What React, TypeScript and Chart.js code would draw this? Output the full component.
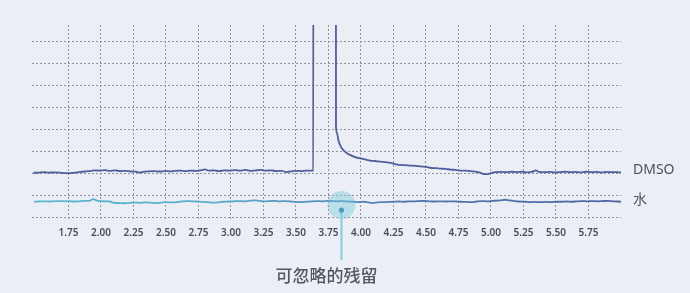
import { useEffect, useRef } from 'react';
import { Chart, registerables } from 'chart.js';

Chart.register(...registerables);

// Chemical-shift axis ticks (ppm)
const xTicks = [1.75, 2.0, 2.25, 2.5, 2.75, 3.0, 3.25, 3.5, 3.75, 4.0, 4.25, 4.5, 4.75, 5.0, 5.25, 5.5, 5.75];
const yGridValues = [0, 1, 2, 3, 4, 5, 6, 7, 8];

// DMSO trace: flat baseline, a solvent peak near 3.7 ppm and its decaying tail
const dmsoX = [
  1.48, 1.52, 1.56, 1.6, 1.64, 1.68, 1.72, 1.75, 1.79, 1.83, 1.87, 1.91, 1.95, 1.99, 2.03, 2.07,
  2.11, 2.15, 2.19, 2.23, 2.27, 2.3, 2.33, 2.37, 2.41, 2.45, 2.49, 2.53, 2.57, 2.61, 2.65, 2.69,
  2.73, 2.77, 2.8, 2.83, 2.87, 2.91, 2.95, 2.99, 3.03, 3.07, 3.11, 3.15, 3.19, 3.23, 3.27, 3.31,
  3.35, 3.39, 3.43, 3.46, 3.5, 3.54, 3.58, 3.62, 3.633,
  3.636, 3.806,
  3.808, 3.815, 3.826, 3.845, 3.864, 3.89, 3.916, 3.95, 3.993, 4.04, 4.07, 4.11, 4.15, 4.19, 4.23,
  4.27, 4.3, 4.34, 4.38, 4.42, 4.46, 4.5, 4.54, 4.58, 4.61, 4.65, 4.69, 4.73, 4.77, 4.8,
  4.84, 4.88, 4.91, 4.94, 4.97, 5.0, 5.04, 5.08, 5.12, 5.16, 5.2, 5.24, 5.28, 5.32, 5.345, 5.37,
  5.41, 5.45, 5.49, 5.53, 5.57, 5.61, 5.65, 5.69, 5.73, 5.77, 5.81, 5.85, 5.89, 5.93, 5.97, 6.0,
];
const dmsoY = [
  2.02, 2.03, 2.05, 2.03, 2.04, 2.03, 2.01, 2.0, 2.02, 2.05, 2.08, 2.1, 2.13, 2.12, 2.14, 2.11,
  2.13, 2.1, 2.11, 2.08, 2.07, 2.03, 2.07, 2.09, 2.1, 2.08, 2.1, 2.09, 2.11, 2.12, 2.1, 2.12,
  2.11, 2.14, 2.18, 2.12, 2.13, 2.1, 2.13, 2.12, 2.14, 2.12, 2.15, 2.11, 2.13, 2.15, 2.12, 2.13,
  2.1, 2.11, 2.05, 2.09, 2.11, 2.1, 2.12, 2.12, 2.13,
  40, 40,
  4.1, 3.85, 3.52, 3.22, 3.06, 2.93, 2.84, 2.75, 2.68, 2.62, 2.58, 2.56, 2.53, 2.51, 2.47,
  2.41, 2.38, 2.37, 2.35, 2.34, 2.31, 2.29, 2.24, 2.23, 2.21, 2.2, 2.17, 2.15, 2.12, 2.12,
  2.1, 2.07, 2.04, 1.97, 1.96, 2.01, 2.05, 2.06, 2.05, 2.07, 2.05, 2.07, 2.04, 2.07, 2.13, 2.06,
  2.05, 2.06, 2.04, 2.05, 2.07, 2.05, 2.06, 2.04, 2.07, 2.05, 2.06, 2.04, 2.06, 2.05, 2.05, 2.04,
];

// Water trace: baseline with only a faint residual
const waterX = [
  1.485, 1.52, 1.56, 1.6, 1.64, 1.68, 1.72, 1.75, 1.79, 1.83, 1.87, 1.91, 1.94, 1.97, 2.0, 2.04,
  2.07, 2.1, 2.14, 2.18, 2.22, 2.26, 2.3, 2.34, 2.38, 2.42, 2.46, 2.5, 2.54, 2.58, 2.62, 2.66,
  2.7, 2.74, 2.78, 2.82, 2.86, 2.9, 2.94, 2.98, 3.02, 3.06, 3.1, 3.14, 3.18, 3.22, 3.26, 3.3,
  3.34, 3.38, 3.42, 3.46, 3.5, 3.54, 3.58, 3.62, 3.66, 3.7, 3.74, 3.78, 3.82, 3.86, 3.9, 3.94,
  3.98, 4.02, 4.06, 4.09, 4.13, 4.17, 4.21, 4.25, 4.29, 4.33, 4.37, 4.41, 4.45, 4.49, 4.53, 4.57,
  4.61, 4.65, 4.69, 4.73, 4.77, 4.81, 4.85, 4.89, 4.93, 4.97, 5.01, 5.05, 5.09, 5.11, 5.14, 5.18,
  5.22, 5.26, 5.3, 5.34, 5.38, 5.42, 5.46, 5.5, 5.54, 5.58, 5.62, 5.66, 5.7, 5.74, 5.78, 5.82,
  5.86, 5.9, 5.94, 5.97, 6.0,
];
const waterY = [
  0.7, 0.71, 0.72, 0.71, 0.72, 0.73, 0.72, 0.73, 0.71, 0.72, 0.74, 0.74, 0.82, 0.75, 0.73, 0.72,
  0.71, 0.65, 0.64, 0.63, 0.65, 0.66, 0.65, 0.67, 0.66, 0.64, 0.66, 0.68, 0.67, 0.68, 0.71, 0.73,
  0.72, 0.71, 0.69, 0.68, 0.66, 0.67, 0.7, 0.71, 0.72, 0.73, 0.72, 0.74, 0.76, 0.74, 0.72, 0.73,
  0.74, 0.72, 0.73, 0.71, 0.69, 0.68, 0.7, 0.72, 0.73, 0.72, 0.74, 0.73, 0.72, 0.73, 0.71, 0.7,
  0.68, 0.7, 0.66, 0.64, 0.67, 0.68, 0.69, 0.7, 0.71, 0.7, 0.72, 0.72, 0.73, 0.74, 0.72, 0.71,
  0.72, 0.71, 0.72, 0.71, 0.7, 0.69, 0.68, 0.71, 0.73, 0.72, 0.74, 0.75, 0.77, 0.79, 0.76, 0.73,
  0.71, 0.7, 0.68, 0.69, 0.68, 0.69, 0.68, 0.7, 0.7, 0.71, 0.7, 0.72, 0.73, 0.72, 0.73, 0.72,
  0.73, 0.74, 0.72, 0.71, 0.7,
];

const seriesNames = ['DMSO', '水'];
const calloutText = '可忽略的残留';
const calloutCenter = { x: 3.85, y: 0.55 };
const calloutDot = { x: 3.85, y: 0.32 };

const pairs = (xs: number[], ys: number[]) => xs.map((x, i) => ({ x, y: ys[i] }));

const LABEL_COLOR = '#4f5058';
const GRID_COLOR = '#8f939e';

const decorations = {
  id: 'decorations',
  afterDatasetsDraw(chart: any) {
    const { ctx, chartArea, scales } = chart;
    const xs = scales.x;
    const ys = scales.y;

    // series names at the right end of each trace
    chart.data.datasets.forEach((ds: any, i: number) => {
      const meta = chart.getDatasetMeta(i);
      const last = meta.data[meta.data.length - 1];
      ctx.save();
      ctx.font = '14px "Noto Sans", "Noto Sans CJK SC", sans-serif';
      ctx.fillStyle = LABEL_COLOR;
      ctx.textBaseline = 'middle';
      ctx.textAlign = 'left';
      ctx.fillText(ds.label, chartArea.right + 12, last.y - 2);
      ctx.restore();
    });

    // callout marking the water residual
    const cx = xs.getPixelForValue(calloutCenter.x);
    const cy = ys.getPixelForValue(calloutCenter.y);
    const dx = xs.getPixelForValue(calloutDot.x);
    const dy = ys.getPixelForValue(calloutDot.y);
    ctx.save();
    ctx.beginPath();
    ctx.arc(cx, cy, 14, 0, Math.PI * 2);
    ctx.fillStyle = 'rgba(120, 200, 220, 0.42)';
    ctx.fill();
    ctx.beginPath();
    ctx.moveTo(dx, dy);
    ctx.lineTo(dx, chartArea.bottom + 39);
    ctx.strokeStyle = '#86cbde';
    ctx.lineWidth = 2;
    ctx.stroke();
    ctx.beginPath();
    ctx.arc(dx, dy, 2.6, 0, Math.PI * 2);
    ctx.fillStyle = '#4a9db5';
    ctx.fill();
    ctx.font = '500 17px "Noto Sans CJK SC", sans-serif';
    ctx.fillStyle = '#555660';
    ctx.textAlign = 'center';
    ctx.textBaseline = 'middle';
    ctx.fillText(calloutText, cx - 15, chartArea.bottom + 55);
    ctx.restore();
  },
};

export default function App() {
  const canvasRef = useRef<HTMLCanvasElement | null>(null);

  useEffect(() => {
    const canvas = canvasRef.current;
    if (!canvas) return;

    const waterGradient = (context: any) => {
      const { chart } = context;
      const area = chart.chartArea;
      if (!area) return '#58aece';
      const g = chart.ctx.createLinearGradient(area.left, 0, area.right, 0);
      g.addColorStop(0, '#5cb8d0');
      g.addColorStop(0.3, '#58aecd');
      g.addColorStop(0.65, '#5077ad');
      g.addColorStop(1, '#4f64a0');
      return g;
    };

    const chart = new Chart(canvas, {
      type: 'line',
      data: {
        datasets: [
          {
            label: seriesNames[0],
            data: pairs(dmsoX, dmsoY),
            borderColor: '#505e9a',
            borderWidth: 1.8,
            pointRadius: 0,
            cubicInterpolationMode: 'monotone',
            fill: false,
          },
          {
            label: seriesNames[1],
            data: pairs(waterX, waterY),
            borderColor: waterGradient,
            borderWidth: 1.8,
            pointRadius: 0,
            cubicInterpolationMode: 'monotone',
            fill: false,
          },
        ],
      },
      options: {
        responsive: false,
        animation: false,
        layout: { padding: { left: 0, right: 69, top: 25, bottom: 0 } },
        plugins: {
          legend: { display: false },
          tooltip: { enabled: false },
        },
        scales: {
          x: {
            type: 'linear',
            min: 1.47,
            max: 6.0,
            afterBuildTicks: (scale: any) => {
              scale.ticks = xTicks.map((v) => ({ value: v }));
            },
            afterFit: (scale: any) => {
              scale.height = 72;
            },
            border: { display: false, dash: [2, 2] },
            grid: {
              color: GRID_COLOR,
              lineWidth: 1,
              drawTicks: false,
            },
            ticks: {
              padding: 6,
              color: '#4b4d57',
              font: { family: '"Noto Sans", sans-serif', size: 10, weight: '600' },
              callback: (v: any) => Number(v).toFixed(2),
              maxRotation: 0,
              autoSkip: false,
            },
          },
          y: {
            type: 'linear',
            min: -0.18,
            max: 8.77,
            afterBuildTicks: (scale: any) => {
              scale.ticks = yGridValues.map((v) => ({ value: v }));
            },
            afterFit: (scale: any) => {
              scale.width = 32;
            },
            border: { display: false, dash: [2, 2] },
            grid: {
              color: GRID_COLOR,
              lineWidth: 1,
              drawTicks: false,
            },
            ticks: { display: false },
          },
        },
      },
      plugins: [decorations],
    } as any);

    return () => chart.destroy();
  }, []);

  return (
    <div
      style={{
        position: 'fixed',
        left: 0,
        top: 0,
        width: 690,
        height: 293,
        background: '#eceef6',
      }}
    >
      <canvas ref={canvasRef} width={690} height={293} style={{ display: 'block' }} />
    </div>
  );
}
